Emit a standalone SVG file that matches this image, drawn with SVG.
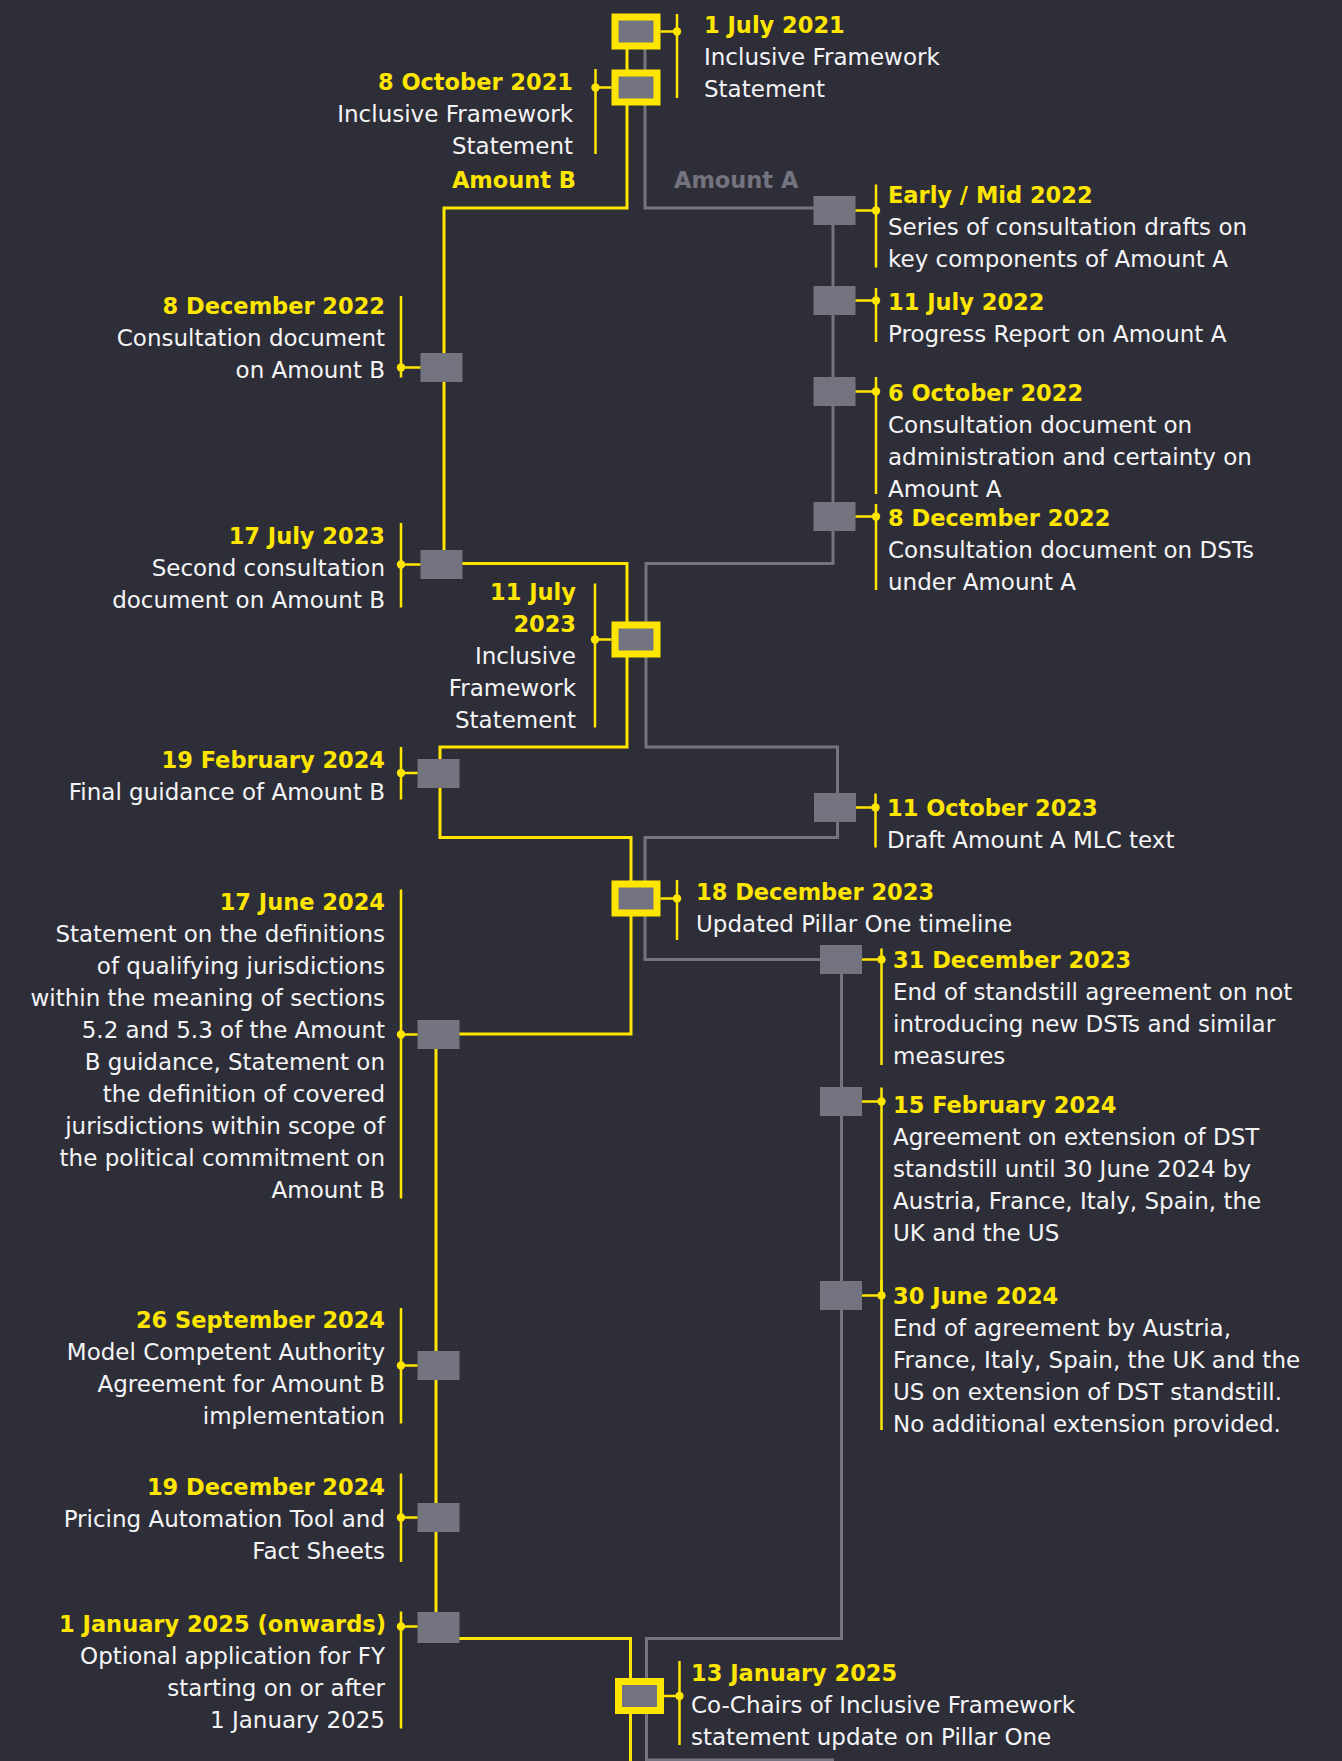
<svg xmlns="http://www.w3.org/2000/svg" width="1342" height="1761" viewBox="0 0 1342 1761">
<style>
.box{fill:#747480}
.hl{stroke:#ffe600;stroke-width:7}
.main{fill:none;stroke-width:3}
.ya{stroke:#ffe600}
.ga{stroke:#747480}
.lead{stroke:#ffe600;stroke-width:2.5;fill:none}
.dot{fill:#ffe600}
text{font-family:"DejaVu Sans","Liberation Sans",sans-serif}
.d{font-weight:bold;font-size:22.5px;fill:#ffe600}
.t{font-size:23px;fill:#f4f4f6}
.r{text-anchor:end}
.amA{font-weight:bold;font-size:22.5px;fill:#747480}
</style>
<rect x="0" y="0" width="1342" height="1761" fill="#2e2e38"/>

<g id="connectors">
<path class="main ga" d="M645,31 V208 H833 V563.5 H646 V747 H837.5 V837.5 H645 V959.5 H841.5 V1638.5 H646.5 V1760 H834"/>
<path class="main ya" d="M627,31 V208 H444 V563.5 H627 V747 H440 V837.5 H631 V1034 H436 V1638.5 H630.5 V1761"/>
</g>

<g id="branch-labels">
<text class="d r" x="576" y="188">Amount B</text>
<text class="amA" x="674" y="188">Amount A</text>
</g>

<g id="n-2021-07-01">
<rect class="box hl" x="615" y="17" width="42" height="29"/>
<path class="lead" d="M660.5,31.5 H677 M677,14 V98"/>
<circle class="dot" cx="677" cy="31.5" r="4.2"/>
<text class="d" x="704" y="33">1 July 2021</text>
<text class="t" x="704" y="65">Inclusive Framework</text>
<text class="t" x="704" y="97">Statement</text>
</g>

<g id="n-2021-10-08">
<rect class="box hl" x="615" y="73" width="42" height="29"/>
<path class="lead" d="M611.5,87.5 H595.5 M595.5,69 V154"/>
<circle class="dot" cx="595.5" cy="87.5" r="4.2"/>
<text class="d r" x="573" y="90">8 October 2021</text>
<text class="t r" x="573" y="122">Inclusive Framework</text>
<text class="t r" x="573" y="154">Statement</text>
</g>

<g id="n-2022-early-mid">
<rect class="box" x="813.5" y="196" width="42" height="29"/>
<path class="lead" d="M855.5,210.5 H876 M876,184.5 V267.5"/>
<circle class="dot" cx="876" cy="210.5" r="4.2"/>
<text class="d" x="888" y="203">Early / Mid 2022</text>
<text class="t" x="888" y="235">Series of consultation drafts on</text>
<text class="t" x="888" y="267">key components of Amount A</text>
</g>

<g id="n-2022-07-11">
<rect class="box" x="813.5" y="286" width="42" height="29"/>
<path class="lead" d="M855.5,300.5 H876 M876,288 V342"/>
<circle class="dot" cx="876" cy="300.5" r="4.2"/>
<text class="d" x="888" y="309.5">11 July 2022</text>
<text class="t" x="888" y="341.5">Progress Report on Amount A</text>
</g>

<g id="n-2022-10-06">
<rect class="box" x="813.5" y="377" width="42" height="29"/>
<path class="lead" d="M855.5,391.5 H876 M876,377 V494"/>
<circle class="dot" cx="876" cy="391.5" r="4.2"/>
<text class="d" x="888" y="400.5">6 October 2022</text>
<text class="t" x="888" y="432.5">Consultation document on</text>
<text class="t" x="888" y="464.5">administration and certainty on</text>
<text class="t" x="888" y="496.5">Amount A</text>
</g>

<g id="n-2022-12-08-a">
<rect class="box" x="813.5" y="502" width="42" height="29"/>
<path class="lead" d="M855.5,516.5 H876 M876,504 V590"/>
<circle class="dot" cx="876" cy="516.5" r="4.2"/>
<text class="d" x="888" y="525.5">8 December 2022</text>
<text class="t" x="888" y="557.5">Consultation document on DSTs</text>
<text class="t" x="888" y="589.5">under Amount A</text>
</g>

<g id="n-2022-12-08-b">
<rect class="box" x="420.5" y="353" width="42" height="29"/>
<path class="lead" d="M420.5,367.5 H401 M401,296 V377.5"/>
<circle class="dot" cx="401" cy="367.5" r="4.2"/>
<text class="d r" x="385" y="313.5">8 December 2022</text>
<text class="t r" x="385" y="345.5">Consultation document</text>
<text class="t r" x="385" y="377.5">on Amount B</text>
</g>

<g id="n-2023-07-17">
<rect class="box" x="420.5" y="550" width="42" height="29"/>
<path class="lead" d="M420.5,564.5 H401 M401,523 V607.5"/>
<circle class="dot" cx="401" cy="564.5" r="4.2"/>
<text class="d r" x="385" y="543.5">17 July 2023</text>
<text class="t r" x="385" y="575.5">Second consultation</text>
<text class="t r" x="385" y="607.5">document on Amount B</text>
</g>

<g id="n-2023-07-11">
<rect class="box hl" x="615" y="625" width="42" height="29"/>
<path class="lead" d="M611.5,639.5 H595 M595,583.5 V727.5"/>
<circle class="dot" cx="595" cy="639.5" r="4.2"/>
<text class="d r" x="576" y="599.5">11 July</text>
<text class="d r" x="576" y="631.5">2023</text>
<text class="t r" x="576" y="663.5">Inclusive</text>
<text class="t r" x="576" y="695.5">Framework</text>
<text class="t r" x="576" y="727.5">Statement</text>
</g>

<g id="n-2024-02-19">
<rect class="box" x="417.5" y="759" width="42" height="29"/>
<path class="lead" d="M417.5,773 H401 M401,747 V799.5"/>
<circle class="dot" cx="401" cy="773" r="4.2"/>
<text class="d r" x="385" y="767.5">19 February 2024</text>
<text class="t r" x="385" y="799.5">Final guidance of Amount B</text>
</g>

<g id="n-2023-10-11">
<rect class="box" x="814" y="793" width="42" height="29"/>
<path class="lead" d="M856,807.5 H875.5 M875.5,793.5 V847.5"/>
<circle class="dot" cx="875.5" cy="807.5" r="4.2"/>
<text class="d" x="887" y="815.5">11 October 2023</text>
<text class="t" x="887" y="847.5">Draft Amount A MLC text</text>
</g>

<g id="n-2023-12-18">
<rect class="box hl" x="615" y="884" width="42" height="29"/>
<path class="lead" d="M660.5,898.5 H677 M677,880 V940"/>
<circle class="dot" cx="677" cy="898.5" r="4.2"/>
<text class="d" x="696" y="900">18 December 2023</text>
<text class="t" x="696" y="932">Updated Pillar One timeline</text>
</g>

<g id="n-2023-12-31">
<rect class="box" x="820" y="945" width="42" height="29"/>
<path class="lead" d="M862,959.5 H881.5 M881.5,948.5 V1065"/>
<circle class="dot" cx="881.5" cy="959.5" r="4.2"/>
<text class="d" x="893" y="968">31 December 2023</text>
<text class="t" x="893" y="1000">End of standstill agreement on not</text>
<text class="t" x="893" y="1032">introducing new DSTs and similar</text>
<text class="t" x="893" y="1064">measures</text>
</g>

<g id="n-2024-02-15">
<rect class="box" x="820" y="1087" width="42" height="29"/>
<path class="lead" d="M862,1101.5 H881.5 M881.5,1087.5 V1296"/>
<circle class="dot" cx="881.5" cy="1101.5" r="4.2"/>
<text class="d" x="893" y="1113">15 February 2024</text>
<text class="t" x="893" y="1145">Agreement on extension of DST</text>
<text class="t" x="893" y="1177">standstill until 30 June 2024 by</text>
<text class="t" x="893" y="1209">Austria, France, Italy, Spain, the</text>
<text class="t" x="893" y="1241">UK and the US</text>
</g>

<g id="n-2024-06-30">
<rect class="box" x="820" y="1281" width="42" height="29"/>
<path class="lead" d="M862,1295.5 H881.5 M881.5,1280 V1430"/>
<circle class="dot" cx="881.5" cy="1295.5" r="4.2"/>
<text class="d" x="893" y="1303.5">30 June 2024</text>
<text class="t" x="893" y="1335.5">End of agreement by Austria,</text>
<text class="t" x="893" y="1367.5">France, Italy, Spain, the UK and the</text>
<text class="t" x="893" y="1399.5">US on extension of DST standstill.</text>
<text class="t" x="893" y="1431.5">No additional extension provided.</text>
</g>

<g id="n-2024-06-17">
<rect class="box" x="417.5" y="1020" width="42" height="29"/>
<path class="lead" d="M417.5,1034.5 H401 M401,889.5 V1198.5"/>
<circle class="dot" cx="401" cy="1034.5" r="4.2"/>
<text class="d r" x="385" y="909.5">17 June 2024</text>
<text class="t r" x="385" y="941.5">Statement on the definitions</text>
<text class="t r" x="385" y="973.5">of qualifying jurisdictions</text>
<text class="t r" x="385" y="1005.5">within the meaning of sections</text>
<text class="t r" x="385" y="1037.5">5.2 and 5.3 of the Amount</text>
<text class="t r" x="385" y="1069.5">B guidance, Statement on</text>
<text class="t r" x="385" y="1101.5">the definition of covered</text>
<text class="t r" x="385" y="1133.5">jurisdictions within scope of</text>
<text class="t r" x="385" y="1165.5">the political commitment on</text>
<text class="t r" x="385" y="1197.5">Amount B</text>
</g>

<g id="n-2024-09-26">
<rect class="box" x="417.5" y="1351" width="42" height="29"/>
<path class="lead" d="M417.5,1365.5 H401 M401,1308 V1423.5"/>
<circle class="dot" cx="401" cy="1365.5" r="4.2"/>
<text class="d r" x="385" y="1328">26 September 2024</text>
<text class="t r" x="385" y="1360">Model Competent Authority</text>
<text class="t r" x="385" y="1392">Agreement for Amount B</text>
<text class="t r" x="385" y="1424">implementation</text>
</g>

<g id="n-2024-12-19">
<rect class="box" x="417.5" y="1503" width="42" height="29"/>
<path class="lead" d="M417.5,1517.5 H401 M401,1473.5 V1562"/>
<circle class="dot" cx="401" cy="1517.5" r="4.2"/>
<text class="d r" x="385" y="1495">19 December 2024</text>
<text class="t r" x="385" y="1527">Pricing Automation Tool and</text>
<text class="t r" x="385" y="1559">Fact Sheets</text>
</g>

<g id="n-2025-01-01">
<rect class="box" x="417.5" y="1612" width="42" height="31"/>
<path class="lead" d="M417.5,1626.5 H401 M401,1611.5 V1728.5"/>
<circle class="dot" cx="401" cy="1626.5" r="4.2"/>
<text class="d r" x="386" y="1631.5">1 January 2025 (onwards)</text>
<text class="t r" x="385" y="1663.5">Optional application for FY</text>
<text class="t r" x="385" y="1695.5">starting on or after</text>
<text class="t r" x="385" y="1727.5">1 January 2025</text>
</g>

<g id="n-2025-01-13">
<rect class="box hl" x="618.5" y="1681.5" width="42" height="29"/>
<path class="lead" d="M664,1696 H679.5 M679.5,1661 V1745"/>
<circle class="dot" cx="679.5" cy="1696" r="4.2"/>
<text class="d" x="691" y="1681">13 January 2025</text>
<text class="t" x="691" y="1713">Co-Chairs of Inclusive Framework</text>
<text class="t" x="691" y="1745">statement update on Pillar One</text>
</g>
</svg>
